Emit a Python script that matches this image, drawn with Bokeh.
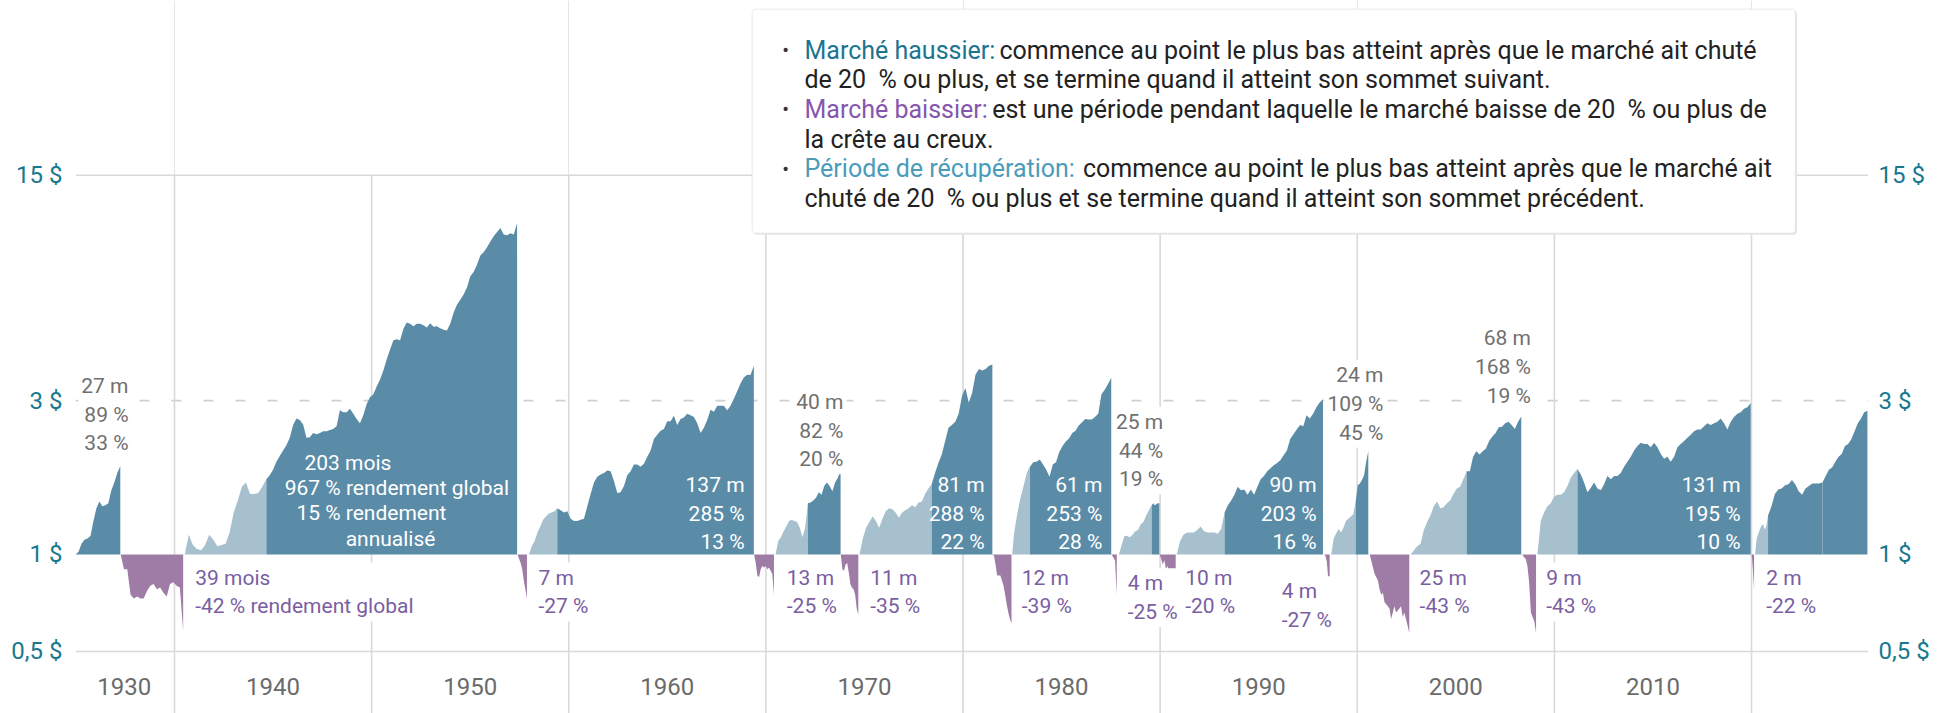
import numpy as np
from bokeh.plotting import figure
from bokeh.models import ColumnDataSource, Span, Label, BoxAnnotation, FixedTicker, LogAxis, Range1d
from bokeh.core.properties import value
from bokeh.embed import file_html
from bokeh.resources import INLINE

# ======================= DATA =======================
# Value of 1 $ invested at the start of each phase, sampled at equal time steps
# between the phase start and end (decimal years).

# --- Marchés haussiers : partie "récupération" (clair) et suite du marché haussier (foncé)
bull_1935_t = (1934.98, 1937.25)
bull_1935 = [1.00, 1.02, 1.08, 1.11, 1.12, 1.14, 1.27, 1.39, 1.46, 1.41, 1.42, 1.44, 1.58, 1.67, 1.79, 1.88]

rec_1940_t = (1940.52, 1944.66)
rec_1940 = [1.00, 1.15, 1.07, 1.04, 1.03, 1.07, 1.15, 1.11, 1.06, 1.07, 1.08, 1.17, 1.35, 1.47, 1.62, 1.67,
            1.54, 1.54, 1.55, 1.62, 1.71]
bull_1940_t = (1944.66, 1957.38)
bull_1940 = [1.71, 1.76, 1.83, 1.94, 2.02, 2.10, 2.18, 2.30, 2.52, 2.64, 2.61, 2.53, 2.30, 2.31, 2.38, 2.36,
             2.38, 2.41, 2.41, 2.43, 2.45, 2.50, 2.80, 2.76, 2.76, 2.83, 2.73, 2.63, 2.55, 2.70, 2.93, 3.07,
             3.14, 3.32, 3.49, 3.72, 4.03, 4.32, 4.62, 4.65, 4.62, 5.01, 5.24, 5.19, 5.10, 5.19, 5.19, 5.14,
             5.06, 5.21, 5.08, 5.10, 5.03, 4.98, 4.95, 5.19, 5.62, 5.95, 6.17, 6.40, 6.73, 7.29, 7.52, 7.91,
             8.46, 8.65, 8.97, 9.35, 9.71, 10.0, 10.3, 9.83, 9.77, 9.92, 9.83, 10.67]

rec_1957_t = (1957.98, 1959.42)
rec_1957 = [1.00, 1.06, 1.10, 1.17, 1.22, 1.28, 1.31, 1.34, 1.35, 1.36, 1.39]
bull_1957_t = (1959.42, 1969.39)
bull_1957 = [1.39, 1.37, 1.35, 1.36, 1.29, 1.27, 1.27, 1.28, 1.29, 1.41, 1.54, 1.67, 1.74, 1.77, 1.79, 1.82,
             1.81, 1.69, 1.55, 1.56, 1.63, 1.76, 1.81, 1.90, 1.90, 1.87, 1.91, 2.01, 2.10, 2.28, 2.35, 2.42,
             2.45, 2.59, 2.59, 2.69, 2.52, 2.63, 2.66, 2.73, 2.70, 2.67, 2.55, 2.38, 2.47, 2.61, 2.81, 2.77,
             2.89, 2.89, 2.89, 2.80, 2.89, 3.04, 3.21, 3.39, 3.54, 3.61, 3.60, 3.85]

rec_1970_t = (1970.49, 1972.13)
rec_1970 = [1.00, 1.10, 1.13, 1.18, 1.22, 1.27, 1.28, 1.27, 1.26, 1.21, 1.13, 1.21, 1.44]
bull_1970_t = (1972.13, 1973.79)
bull_1970 = [1.44, 1.45, 1.47, 1.50, 1.56, 1.53, 1.63, 1.67, 1.63, 1.57, 1.67, 1.73, 1.82]

rec_1974_t = (1974.75, 1978.41)
rec_1974 = [1.00, 1.12, 1.21, 1.26, 1.31, 1.27, 1.21, 1.29, 1.36, 1.39, 1.38, 1.35, 1.30, 1.35, 1.37, 1.39,
            1.42, 1.40, 1.45, 1.46, 1.54, 1.60, 1.65]
bull_1974_t = (1978.41, 1981.49)
bull_1974 = [1.65, 1.79, 1.92, 2.04, 2.25, 2.47, 2.52, 2.58, 2.73, 3.10, 3.28, 2.96, 3.17, 3.61, 3.76, 3.72,
             3.76, 3.85, 3.88]

rec_1982_t = (1982.50, 1983.40)
rec_1982 = [1.00, 1.15, 1.24, 1.33, 1.41, 1.49, 1.56, 1.63, 1.71, 1.79, 1.84, 1.87]
bull_1982_t = (1983.40, 1987.52)
bull_1982 = [1.87, 1.93, 1.94, 1.97, 1.90, 1.83, 1.74, 1.90, 1.93, 2.08, 2.17, 2.24, 2.29, 2.38, 2.42, 2.51,
             2.57, 2.63, 2.62, 2.62, 2.67, 2.73, 3.14, 3.24, 3.38, 3.53]

rec_1987_t = (1987.91, 1989.57)
rec_1987 = [1.00, 1.07, 1.14, 1.14, 1.13, 1.15, 1.18, 1.19, 1.24, 1.26, 1.32, 1.37, 1.42]
bull_1987_t = (1989.57, 1989.96)
bull_1987 = [1.42, 1.44, 1.42, 1.43, 1.44, 1.44]

rec_1990_t = (1990.84, 1993.27)
rec_1990 = [1.00, 1.10, 1.15, 1.17, 1.17, 1.17, 1.19, 1.22, 1.18, 1.17, 1.17, 1.17, 1.16, 1.20, 1.35]
bull_1990_t = (1993.27, 1998.26)
bull_1990 = [1.35, 1.42, 1.47, 1.53, 1.62, 1.58, 1.59, 1.53, 1.59, 1.53, 1.62, 1.71, 1.75, 1.81, 1.85, 1.89,
             1.92, 1.96, 2.03, 2.10, 2.28, 2.36, 2.44, 2.52, 2.50, 2.70, 2.64, 2.73, 2.86, 2.96, 3.03]

rec_1998_t = (1998.68, 1999.92)
rec_1998 = [1.00, 1.12, 1.16, 1.20, 1.17, 1.21, 1.27, 1.29, 1.31, 1.33, 1.46]
bull_1998_t = (1999.92, 2000.56)
bull_1998 = [1.46, 1.64, 1.66, 1.70, 1.76, 1.94, 2.09]

rec_2002_t = (2002.71, 2005.55)
rec_2002 = [1.00, 1.03, 1.06, 1.08, 1.19, 1.26, 1.32, 1.41, 1.46, 1.39, 1.40, 1.44, 1.47, 1.54, 1.60, 1.62,
            1.71, 1.81]
bull_2002_t = (2005.55, 2008.32)
bull_2002 = [1.81, 1.81, 2.01, 2.09, 2.04, 2.09, 2.13, 2.25, 2.32, 2.38, 2.48, 2.49, 2.55, 2.58, 2.52, 2.45,
             2.58, 2.68]

rec_2009_t = (2009.14, 2011.17)
rec_2009 = [1.00, 1.27, 1.35, 1.41, 1.44, 1.51, 1.53, 1.53, 1.56, 1.63, 1.73, 1.79, 1.84]
bull_2009_t = (2011.17, 2019.96)
bull_2009 = [1.84, 1.77, 1.67, 1.56, 1.61, 1.67, 1.60, 1.58, 1.65, 1.75, 1.71, 1.75, 1.75, 1.79, 1.87, 1.94,
             2.01, 2.10, 2.17, 2.22, 2.20, 2.20, 2.15, 2.22, 2.15, 2.05, 1.98, 2.01, 1.94, 2.01, 2.15, 2.20,
             2.25, 2.30, 2.35, 2.41, 2.44, 2.44, 2.50, 2.55, 2.52, 2.55, 2.58, 2.64, 2.55, 2.44, 2.58, 2.67,
             2.73, 2.76, 2.83, 2.86, 2.95]

rec_2020_t = (2020.18, 2020.84)
rec_2020 = [1.00, 1.12, 1.16, 1.20, 1.23, 1.24, 1.19, 1.23, 1.32]
bull_2020_t = (2020.84, 2023.60)
bull_2020 = [1.32, 1.41, 1.54, 1.59, 1.60, 1.64, 1.65, 1.70, 1.65, 1.57, 1.53, 1.60, 1.63, 1.66, 1.66, 1.66, 1.67]
bull_2023_t = (2023.60, 2025.88)
bull_2023 = [1.67, 1.75, 1.83, 1.86, 1.94, 2.01, 2.05, 2.17, 2.20, 2.28, 2.41, 2.55, 2.64, 2.76, 2.79]

# --- Marchés baissiers
bear_1937_t = (1937.27, 1940.44)
bear_1937 = [1.00, 0.90, 0.90, 0.75, 0.73, 0.74, 0.73, 0.73, 0.77, 0.80, 0.81, 0.78, 0.79, 0.76, 0.74, 0.81,
             0.82, 0.80, 0.79, 0.58]
bear_1957_t = (1957.40, 1957.88)
bear_1957 = [1.00, 0.97, 0.94, 0.90, 0.83, 0.78, 0.73]
bear_1969_t = (1969.40, 1970.41)
bear_1969 = [1.00, 0.94, 0.86, 0.85, 0.90, 0.92, 0.91, 0.92, 0.90, 0.91, 0.89, 0.87, 0.75]
bear_1973_t = (1973.80, 1974.69)
bear_1973 = [1.00, 0.90, 0.89, 0.93, 0.94, 0.88, 0.81, 0.79, 0.78, 0.75, 0.68, 0.65]
bear_1981_t = (1981.49, 1982.46)
bear_1981 = [1.00, 0.99, 0.93, 0.86, 0.86, 0.86, 0.83, 0.80, 0.75, 0.70, 0.66, 0.63, 0.61]
bear_1987_t = (1987.53, 1987.80)
bear_1987 = [1.00, 0.98, 0.96, 0.75]
bear_1990_t = (1989.97, 1990.79)
bear_1990 = [1.00, 0.97, 0.93, 0.96, 0.90, 0.92, 0.88, 0.86, 0.87, 0.81, 0.80]
bear_1998_t = (1998.31, 1998.60)
bear_1998 = [1.00, 0.99, 0.95, 0.84, 0.73]
bear_2000_t = (2000.63, 2002.64)
bear_2000 = [1.00, 0.955, 0.91, 0.87, 0.85, 0.83, 0.78, 0.75, 0.76, 0.71, 0.70, 0.69, 0.68, 0.63, 0.66, 0.69,
             0.66, 0.67, 0.68, 0.69, 0.64, 0.66, 0.63, 0.60, 0.57]
bear_2008_t = (2008.37, 2009.07)
bear_2008 = [1.00, 0.98, 0.97, 0.92, 0.82, 0.66, 0.64, 0.62, 0.57]
bear_2020_t = (2020.01, 2020.13)
bear_2020 = [1.00, 0.90, 0.78]

# --- Axis ticks / labels
y_ticks = [0.5, 1, 3, 15]
y_tick_labels = ["0,5 $", "1 $", "3 $", "15 $"]
decades = [1940, 1950, 1960, 1970, 1980, 1990, 2000, 2010, 2020]
decade_labels = ["1930", "1940", "1950", "1960", "1970", "1980", "1990", "2000", "2010"]

# --- Annotation texts
grey_texts = ["27 m\n89 %\n33 %", "40 m\n82 %\n20 %", "25 m\n44 %\n19 %", "24 m\n109 %\n45 %", "68 m\n168 %\n19 %"]
white_texts = ["137 m\n285 %\n13 %", "81 m\n288 %\n22 %", "61 m\n253 %\n28 %", "90 m\n203 %\n16 %", "131 m\n195 %\n10 %"]
big_bull_lines = ["203 mois", "967 % rendement global", "15 % rendement", "annualisé"]
purple_texts = ["39 mois\n-42 % rendement global", "7 m\n-27 %", "13 m\n-25 %", "11 m\n-35 %", "12 m\n-39 %",
                "4 m\n-25 %", "10 m\n-20 %", "4 m\n-27 %", "25 m\n-43 %", "9 m\n-43 %", "2 m\n-22 %"]
legend_terms = ["Marché haussier:", "Marché baissier:", "Période de récupération:"]
legend_rest = ["commence au point le plus bas atteint après que le marché ait chuté",
               "est une période pendant laquelle le marché baisse de 20\u00a0 % ou plus de",
               "commence au point le plus bas atteint après que le marché ait"]
legend_cont = ["de 20\u00a0 % ou plus, et se termine quand il atteint son sommet suivant.",
               "la crête au creux.",
               "chuté de 20\u00a0 % ou plus et se termine quand il atteint son sommet précédent."]

dark_phases = [(bull_1935_t, bull_1935), (bull_1940_t, bull_1940), (bull_1957_t, bull_1957),
               (bull_1970_t, bull_1970), (bull_1974_t, bull_1974), (bull_1982_t, bull_1982),
               (bull_1987_t, bull_1987), (bull_1990_t, bull_1990), (bull_1998_t, bull_1998),
               (bull_2002_t, bull_2002), (bull_2009_t, bull_2009), (bull_2020_t, bull_2020),
               (bull_2023_t, bull_2023)]
light_phases = [(rec_1940_t, rec_1940), (rec_1957_t, rec_1957), (rec_1970_t, rec_1970),
                (rec_1974_t, rec_1974), (rec_1982_t, rec_1982), (rec_1987_t, rec_1987),
                (rec_1990_t, rec_1990), (rec_1998_t, rec_1998), (rec_2002_t, rec_2002),
                (rec_2009_t, rec_2009), (rec_2020_t, rec_2020)]
bear_phases = [(bear_1937_t, bear_1937), (bear_1957_t, bear_1957), (bear_1969_t, bear_1969),
               (bear_1973_t, bear_1973), (bear_1981_t, bear_1981), (bear_1987_t, bear_1987),
               (bear_1990_t, bear_1990), (bear_1998_t, bear_1998), (bear_2000_t, bear_2000),
               (bear_2008_t, bear_2008), (bear_2020_t, bear_2020)]

# ======================= STYLE / LAYOUT =======================
DARK, LIGHT, BEAR = "#5b8ca7", "#a7c0cd", "#9f7ca6"
TEAL, PURPLE_TXT, GREY_TXT, GRID = "#17798f", "#7a5ea2", "#707070", "#d9d9d9"
FONT = "Roboto"
X0, X1 = 1934.978, 2025.935
Y0, Y1 = 0.3210, 52.27
LBL_TOP = 15

p = figure(width=1951, height=713, x_range=Range1d(X0, X1), y_range=Range1d(Y0, Y1),
           y_axis_type="log", x_axis_location=None, y_axis_location="left",
           toolbar_location=None, output_backend="svg",
           min_border_left=75, min_border_right=83, min_border_top=0, min_border_bottom=0)
p.outline_line_color = None
p.ygrid.grid_line_color = None
p.background_fill_color = "white"
p.border_fill_color = "white"


def style_axis(ax, standoff):
    ax.ticker = FixedTicker(ticks=y_ticks)
    ax.major_label_overrides = dict(zip(y_ticks, y_tick_labels))
    ax.axis_line_color = None
    ax.major_tick_line_color = None
    ax.minor_tick_line_color = None
    ax.major_tick_out = 0
    ax.major_tick_in = 0
    ax.major_label_standoff = standoff
    ax.major_label_text_font = FONT
    ax.major_label_text_font_size = "24px"
    ax.major_label_text_color = TEAL


style_axis(p.yaxis[0], 13)
right_axis = LogAxis()
style_axis(right_axis, 10)
p.add_layout(right_axis, "right")

# horizontal grid lines
p.add_layout(Span(location=15, dimension="width", line_color=GRID, line_width=1.6, level="underlay"))
p.add_layout(Span(location=0.5, dimension="width", line_color=GRID, line_width=1.6, level="underlay"))
p.add_layout(Span(location=3, dimension="width", line_color="#cfcfcf", line_width=1.6,
                  line_dash="10 22", level="underlay"))

# vertical decade lines (from the 15 $ line down to the bottom)
p.segment(x0=decades, x1=decades, y0=[LBL_TOP] * len(decades), y1=[Y0] * len(decades),
          line_color=GRID, line_width=1.6)


def phase_source(phases):
    xs, ys = [], []
    for (t0, t1), vals in phases:
        x = np.linspace(t0, t1, len(vals)).tolist()
        xs.append(x + [t1, t0])
        ys.append(list(vals) + [1.0, 1.0])
    return ColumnDataSource(dict(xs=xs, ys=ys))


p.patches("xs", "ys", source=phase_source(light_phases), fill_color=LIGHT, line_color=None)
p.patches("xs", "ys", source=phase_source(dark_phases), fill_color=DARK, line_color=None)
p.patches("xs", "ys", source=phase_source(bear_phases), fill_color=BEAR, line_color=None)

# decade labels (centred in each decade)
dec_x = [1937.45, 1945, 1955, 1965, 1975, 1985, 1995, 2005, 2015]
p.text(x=dec_x, y=[0.389] * len(dec_x), text=decade_labels, text_font=value(FONT),
       text_font_size="24px", text_color="#6b6b6b", text_align="center", text_baseline="middle")

# white labels inside bull areas
white_x = [1968.92, 1981.10, 1987.07, 1997.94, 2019.45]
p.text(x=white_x, y=[1.339] * len(white_x), text=white_texts, text_font=value(FONT),
       text_font_size="21px", text_color="white", text_align="right", text_baseline="middle",
       text_line_height=1.2)
big_x = [1948.80, 1951.28, 1949.99, 1950.96]
big_y = [1.924, 1.605, 1.342, 1.118]
p.text(x=big_x, y=big_y, text=big_bull_lines, text_font=value(FONT), text_font_size="21px",
       text_color="white", text_align="center", text_baseline="middle")

# grey labels (above bull peaks) with white background
grey_x = [1937.82, 1974.09, 1990.31, 2001.48, 2008.96]
grey_y = [2.716, 2.423, 2.100, 2.932, 3.808]
for t, x, y in zip(grey_texts, grey_x, grey_y):
    p.add_layout(Label(x=x, y=y, text=t, text_font=FONT, text_font_size="21px", text_color=GREY_TXT,
                       text_align="right", text_baseline="middle", text_line_height=1.2,
                       background_fill_color="white", padding=3))

# purple labels (bear markets)
purple_x = [1940.90, 1958.31, 1970.91, 1975.14, 1982.83, 1988.20, 1991.12, 1996.02, 2003.01, 2009.43, 2020.59]
purple_y = [0.7645, 0.7645, 0.7645, 0.7645, 0.7645, 0.734, 0.7645, 0.694, 0.7645, 0.7645, 0.7645]
for t, x, y in zip(purple_texts, purple_x, purple_y):
    p.add_layout(Label(x=x, y=y, text=t, text_font=FONT, text_font_size="21px", text_color=PURPLE_TXT,
                       text_align="left", text_baseline="middle", text_line_height=1.2,
                       background_fill_color="white", padding=3))

# ---- definition box (screen units relative to the plot frame: x from left, y from bottom)
p.add_layout(BoxAnnotation(left=678.2, right=1721.5, top=702.8, bottom=478.8, left_units="screen",
                           right_units="screen", top_units="screen", bottom_units="screen",
                           fill_color="#e6e6e6", fill_alpha=1, line_color=None, border_radius=4))
p.add_layout(BoxAnnotation(left=676.7, right=1720, top=704.3, bottom=480.3, left_units="screen",
                           right_units="screen", top_units="screen", bottom_units="screen",
                           fill_color="white", fill_alpha=1, line_color="#d0d0d0", line_width=1.5,
                           border_radius=4))

leg_y = [663.5, 633.8, 604.1, 574.4, 544.7, 515.0]
term_colors = ["#1b7591", "#8656ae", "#4a9cba"]
rest_x = [924, 916.7, 1007.5]
TXT_X, BUL_X = 729, 710
LEG_FS = "25px"
for i in range(3):
    ya, yb = leg_y[2 * i], leg_y[2 * i + 1]
    p.add_layout(Label(x=BUL_X, y=ya, text="•", x_units="screen", y_units="screen", text_font=FONT,
                       text_font_size="20px", text_color="#333333", text_align="center", text_baseline="middle"))
    p.add_layout(Label(x=TXT_X, y=ya, text=legend_terms[i], x_units="screen", y_units="screen", text_font=FONT,
                       text_font_size=LEG_FS, text_color=term_colors[i], text_baseline="middle"))
    p.add_layout(Label(x=rest_x[i], y=ya, text=legend_rest[i], x_units="screen", y_units="screen",
                       text_font=FONT, text_font_size=LEG_FS, text_color="#222222", text_baseline="middle"))
    p.add_layout(Label(x=TXT_X, y=yb, text=legend_cont[i], x_units="screen", y_units="screen",
                       text_font=FONT, text_font_size=LEG_FS, text_color="#222222", text_baseline="middle"))

open("out.html", "w").write(file_html(p, INLINE))
